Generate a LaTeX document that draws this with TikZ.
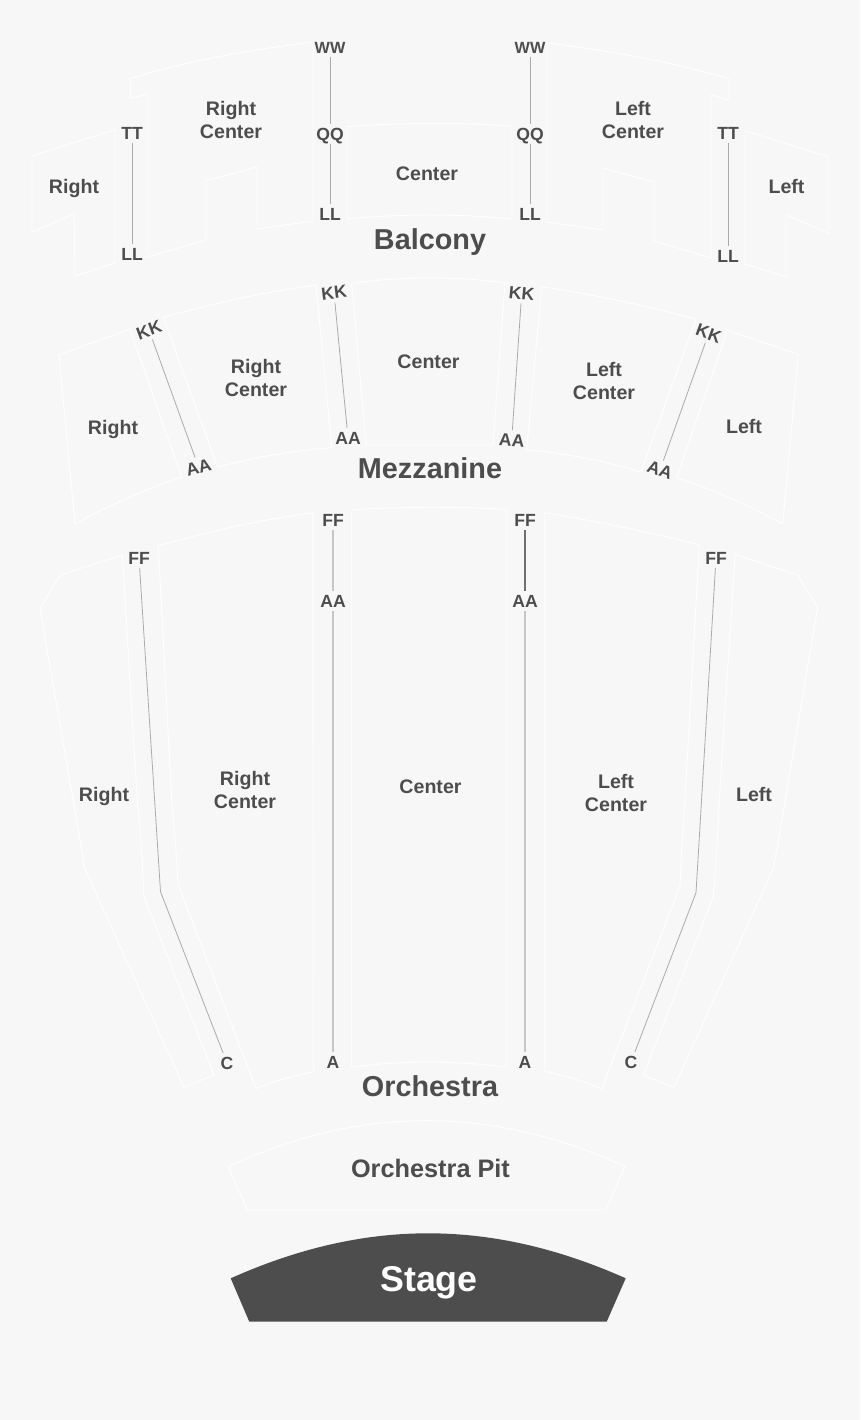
\documentclass[tikz,border=0pt]{standalone}
\usepackage{fontspec}
\setmainfont{Liberation Sans}
\definecolor{planbg}{HTML}{F7F7F7}
\definecolor{planink}{HTML}{4D4D4D}
\definecolor{aislegray}{HTML}{ABABAB}
\definecolor{aislelight}{HTML}{C6C6C6}
\definecolor{aisledark}{HTML}{707070}

\begin{document}
\begin{tikzpicture}[
  x=1pt,y=-1pt,
  seatblock/.style={draw=white,line width=.9pt,line join=miter},
  rowlabel/.style={text=planink,font=\bfseries\fontsize{17.6}{18}\selectfont,text height=12.6pt,text depth=0pt,
    inner sep=0pt,outer sep=0pt,minimum height=20pt,minimum width=20pt},
  blocklabel/.style={text=planink,font=\bfseries\fontsize{19.6}{23}\selectfont,align=center,inner sep=0pt},
  tierlabel/.style={text=planink,font=\bfseries\fontsize{28.8}{30}\selectfont,inner sep=0pt},
  aisle/.style={aislegray,line width=.8pt},
  aislewide/.style={aislelight,line width=1.2pt}
]
  \fill[planbg] (0,0) rectangle (860,1420);

  % balcony
  \draw[seatblock] (32,156) -- (115,129.5) -- (115,262.7) -- (75,276) -- (74,214) -- (32,232) -- cycle;
  \draw[seatblock] (130,78.7) .. controls (190,60) and (250,50) .. (313,42) -- (313,221) -- (257,229) -- (257,167)
    -- (206,180.7) -- (206,240) -- (148,256.7) -- (148,94) -- (130.7,98.3) -- cycle;
  \draw[seatblock] (347,126.7) .. controls (400,122.5) and (460,122.5) .. (512,126) -- (512,219)
    .. controls (460,213.7) and (400,213.7) .. (347,219) -- cycle;
  \draw[seatblock] (547,43) .. controls (610,51) and (670,61) .. (729,79) -- (729,100) -- (711,95) -- (711,258)
    -- (654,240.7) -- (654,182) -- (603,168) -- (603,230) -- (547,222) -- cycle;
  \draw[seatblock] (745,130.7) -- (828,156.7) -- (828,233) -- (786,215) -- (786,277) -- (745,264) -- cycle;

  \node[blocklabel] (balRight) at (74,188.5) {Right};
  \node[blocklabel] (balRightC) at (231,119.5) {Right\\Center};
  \node[blocklabel] (balCenter) at (427,174) {Center};
  \node[blocklabel] (balLeftC) at (633,119.5) {Left\\Center};
  \node[blocklabel] (balLeft) at (786.5,186) {Left};
  \node[tierlabel] (balcony) at (430,242) {Balcony};

  \node[rowlabel] (tt1) at (132,133) {TT};
  \node[rowlabel] (ll1) at (132,254) {LL};
  \node[rowlabel,font=\bfseries\fontsize{16.2}{18}\selectfont] (ww2) at (330,47) {WW};
  \node[rowlabel] (qq2) at (330,134) {QQ};
  \node[rowlabel] (ll2) at (330,214) {LL};
  \node[rowlabel,font=\bfseries\fontsize{16.2}{18}\selectfont] (ww3) at (530,47) {WW};
  \node[rowlabel] (qq3) at (530,134) {QQ};
  \node[rowlabel] (ll3) at (530,214) {LL};
  \node[rowlabel] (tt4) at (728,133) {TT};
  \node[rowlabel] (ll4) at (728,256) {LL};

  \draw[aisle] (tt1) -- (ll1);
  \draw[aisle] (ww2) -- (qq2);
  \draw[aisle] (qq2) -- (ll2);
  \draw[aisle] (ww3) -- (qq3);
  \draw[aisle] (qq3) -- (ll3);
  \draw[aisle] (tt4) -- (ll4);

  % mezzanine
  \draw[seatblock] (59,354.7) -- (130,329.3) -- (181.7,477.3) .. controls (145,489) and (110,505) .. (75,524) -- cycle;
  \draw[seatblock] (163.3,317.3) .. controls (210,304) and (265,292) .. (316,285) -- (331.7,447.7)
    .. controls (290,451) and (250,458) .. (217.7,467.3) -- cycle;
  \draw[seatblock] (351.7,283.3) .. controls (400,276.3) and (455,276.3) .. (505,282.7) -- (493,445) -- (366,445) -- cycle;
  \draw[seatblock] (541.7,286.7) .. controls (590,294) and (645,305) .. (696,319.3) -- (640.7,472)
    .. controls (605,461) and (565,453) .. (526.7,450) -- cycle;
  \draw[seatblock] (727.3,330) -- (798.3,354.7) -- (782.7,524) .. controls (750,506) and (715,490) .. (676.7,478) -- cycle;

  \node[blocklabel] (mezRight) at (113,429) {Right};
  \node[blocklabel] (mezRightC) at (256,377.5) {Right\\Center};
  \node[blocklabel] (mezCenter) at (428.5,362) {Center};
  \node[blocklabel] (mezLeftC) at (604,380.5) {Left\\Center};
  \node[blocklabel] (mezLeft) at (744,426) {Left};
  \node[tierlabel] (mezzanine) at (430,468) {Mezzanine};

  \node[rowlabel,rotate=20] (kk1) at (149,330) {KK};
  \node[rowlabel,rotate=15] (aa1) at (198.5,467) {AA};
  \node[rowlabel,rotate=7] (kk2) at (334,292.7) {KK};
  \node[rowlabel] (aa2) at (348,438) {AA};
  \node[rowlabel,rotate=-5] (kk3) at (521.7,293.3) {KK};
  \node[rowlabel,rotate=-4] (aa3) at (511.7,440) {AA};
  \node[rowlabel,rotate=-20] (kk4) at (708.7,333.3) {KK};
  \node[rowlabel,rotate=-20] (aa4) at (660,470) {AA};

  \draw[aisle] (kk1) -- (aa1);
  \draw[aisle] (kk2) -- (aa2);
  \draw[aisle] (kk3) -- (aa3);
  \draw[aisle] (kk4) -- (aa4);

  % orchestra
  \draw[seatblock] (122.3,555) -- (60,575) -- (40,608.3) -- (81.7,850) -- (84,866.7) -- (184,1087.3) -- (214,1075)
    -- (144,896.7) -- (141.7,850) -- (137.3,800) -- cycle;
  \draw[seatblock] (158.3,546) .. controls (205,532) and (260,520) .. (312.7,512.7) -- (313.3,1071.7)
    .. controls (293,1076) and (274,1081) .. (256,1088.7) -- (178.3,885) -- (176,850) -- (171.7,800) -- cycle;
  \draw[seatblock] (351.7,510) .. controls (400,506.5) and (455,506.5) .. (506.7,509.3) -- (506.7,1067.3)
    .. controls (455,1060.2) and (400,1060.2) .. (351.7,1067.3) -- cycle;
  \draw[seatblock] (544.7,512.7) .. controls (595,521) and (650,532) .. (699.3,545) -- (685,800) -- (681.7,850) -- (680,886)
    -- (601.7,1088.7) .. controls (584,1081.5) and (565,1075.5) .. (544.7,1071.3) -- cycle;
  \draw[seatblock] (735,554.3) -- (797.7,575) -- (817.7,607.7) -- (776.7,850) -- (773.3,868.3) -- (674,1087.3)
    -- (643.3,1075.3) -- (713.3,896.7) -- (716.7,850) -- (719.3,800) -- cycle;

  \node[blocklabel] (orcRight) at (104,796) {Right};
  \node[blocklabel] (orcRightC) at (245,789.5) {Right\\Center};
  \node[blocklabel] (orcCenter) at (430.5,786.5) {Center};
  \node[blocklabel] (orcLeftC) at (616,792.5) {Left\\Center};
  \node[blocklabel] (orcLeft) at (754,794) {Left};
  \node[tierlabel] (orchestra) at (430,1086) {Orchestra};

  \node[rowlabel] (ff1) at (139,558) {FF};
  \node[rowlabel] (c1) at (227,1063) {C};
  \node[rowlabel] (ff2) at (333,520) {FF};
  \node[rowlabel] (aa5) at (333,601) {AA};
  \node[rowlabel] (a2) at (333,1062) {A};
  \node[rowlabel] (ff3) at (525,520) {FF};
  \node[rowlabel] (aa6) at (525,601) {AA};
  \node[rowlabel] (a3) at (525,1062) {A};
  \node[rowlabel] (ff4) at (716,558) {FF};
  \node[rowlabel] (c4) at (631,1062) {C};
  \coordinate (bend1) at (160.5,891.7);
  \coordinate (bend4) at (696,892.7);

  \draw[aisle] (ff1) -- (bend1) -- (c1);
  \draw[aislewide] (ff2) -- (aa5);
  \draw[aislewide] (aa5) -- (a2);
  \draw[aisledark,line width=1.1pt] (ff3) -- (aa6);
  \draw[aislewide] (aa6) -- (a3);
  \draw[aisle] (ff4) -- (bend4) -- (c4);

  % pit and stage
  \draw[seatblock] (228.3,1166.7) .. controls (360,1105.3) and (493,1105.3) .. (625,1166.7) -- (605.7,1210) -- (247.3,1210) -- cycle;
  \node[text=planink,font=\bfseries\fontsize{25.3}{26}\selectfont,inner sep=0pt] (pit) at (430.5,1168.5) {Orchestra Pit};
  \fill[planink] (230.7,1278.3) .. controls (365,1218.3) and (491,1218.3) .. (625.7,1278.3) -- (606.7,1321.7) -- (249.3,1321.7) -- cycle;
  \node[text=white,font=\bfseries\fontsize{35.8}{36}\selectfont,inner sep=0pt] (stage) at (429,1283) {Stage};
\end{tikzpicture}
\end{document}
